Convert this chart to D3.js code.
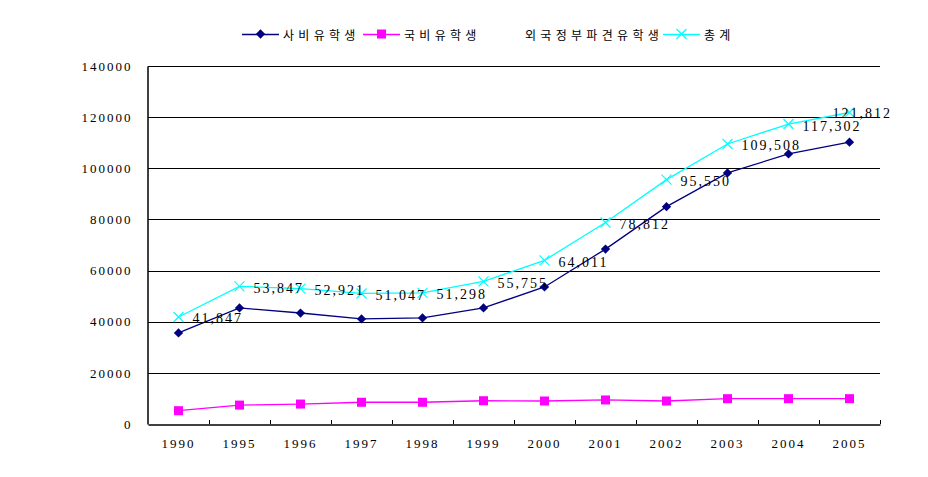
<!DOCTYPE html>
<html><head><meta charset="utf-8">
<script src="https://cdn.jsdelivr.net/npm/d3@7"></script>
<style>
body{margin:0;background:#fff;}
text{fill:#000;}
</style>
</head><body>
<svg id="chart" width="928" height="477"></svg>
<script>
const years = ["1990","1995","1996","1997","1998","1999","2000","2001","2002","2003","2004","2005"];
const privateStudents = [35600,45400,43400,41100,41500,45400,53600,68400,85000,98200,105600,110200];
const nationalStudents = [5200,7400,7800,8500,8500,9100,9000,9400,9000,9900,9900,9900];
const totalStudents = [41847,53847,52921,51047,51298,55755,64011,78812,95550,109508,117302,121812];
const yTicks = [0,20000,40000,60000,80000,100000,120000,140000];
const legendNames = ["사비유학생","국비유학생","외국정부파견유학생","총계"];

(function(){
const svg = d3.select("#chart");
const pLeft = 148, pRight = 880, pTop = 66, pBottom = 424;
const x = d3.scaleBand().domain(years).range([pLeft, pRight]).padding(0);
const y = d3.scaleLinear().domain([0,140000]).range([pBottom, pTop]);
const cx = d => x(d) + x.bandwidth()/2;

const numFont = "'Liberation Serif', serif";

// gridlines
svg.append("g").selectAll("line").data(yTicks.filter(t=>t>0)).join("line")
  .attr("x1", pLeft).attr("x2", pRight)
  .attr("y1", d=>Math.round(y(d))+0.5).attr("y2", d=>Math.round(y(d))+0.5)
  .attr("stroke","#000").attr("stroke-width",1);

// y axis
const yAxis = d3.axisLeft(y).tickValues(yTicks).tickSize(0).tickPadding(15).tickFormat(d3.format("d"));
const gy = svg.append("g").attr("transform",`translate(${pLeft-0.5},0)`).call(yAxis);
gy.select(".domain").attr("stroke","#000").attr("stroke-width",1.5);
gy.selectAll("text").attr("font-family",numFont).attr("font-size",13).attr("letter-spacing","2px").attr("fill","#111");

// x axis
const xAxis = d3.axisBottom(x).tickSize(0).tickPadding(14);
const gx = svg.append("g").attr("transform",`translate(0,${pBottom+0.5})`).call(xAxis);
gx.select(".domain").attr("stroke","#000").attr("stroke-width",1.5);
gx.selectAll("text").attr("font-family",numFont).attr("font-size",13).attr("letter-spacing","2px").attr("fill","#111");
// boundary ticks (between categories), pointing up
const bounds = years.map(d=>x(d)+x.bandwidth());
svg.append("g").selectAll("line").data(bounds).join("line")
  .attr("x1",d=>Math.round(d)+0.5).attr("x2",d=>Math.round(d)+0.5)
  .attr("y1",pBottom).attr("y2",pBottom-4)
  .attr("stroke","#000").attr("stroke-width",1);

const line = d3.line().x((d,i)=>cx(years[i])).y(d=>y(d));

// private (navy)
svg.append("path").datum(privateStudents).attr("d",line)
  .attr("fill","none").attr("stroke","#000080").attr("stroke-width",1.3);
svg.append("g").selectAll("path").data(privateStudents).join("path")
  .attr("d", d3.symbol().type(d3.symbolDiamond2).size(55))
  .attr("transform",(d,i)=>`translate(${cx(years[i])},${y(d)})`)
  .attr("fill","#000080");

// national (magenta)
svg.append("path").datum(nationalStudents).attr("d",line)
  .attr("fill","none").attr("stroke","#ff00ff").attr("stroke-width",1.3);
svg.append("g").selectAll("rect").data(nationalStudents).join("rect")
  .attr("x",(d,i)=>cx(years[i])-4.5).attr("y",d=>y(d)-4.5)
  .attr("width",9).attr("height",9).attr("fill","#ff00ff");

// total (cyan)
svg.append("path").datum(totalStudents).attr("d",line)
  .attr("fill","none").attr("stroke","#00ffff").attr("stroke-width",1.3);
svg.append("g").selectAll("path").data(totalStudents).join("path")
  .attr("d","M-5,-5L5,5M-5,5L5,-5")
  .attr("transform",(d,i)=>`translate(${cx(years[i])},${y(d)})`)
  .attr("stroke","#00ffff").attr("stroke-width",1.2).attr("fill","none");

// data labels
svg.append("g").selectAll("text").data(totalStudents).join("text")
  .attr("x",(d,i)=> i===years.length-1 ? cx(years[i])-17 : cx(years[i])+14)
  .attr("y",(d,i)=> y(d)+ (i===years.length-1 ? 1 : 2))
  .attr("dominant-baseline","central")
  .attr("font-family",numFont).attr("font-size",14).attr("letter-spacing","2px")
  .attr("fill","#111")
  .text(d3.format(","));

// legend
const lg = svg.append("g");
const legendItems = [
  {name:legendNames[0], x0:242, color:"#000080", sym:"diamond"},
  {name:legendNames[1], x0:363, color:"#ff00ff", sym:"square"},
  {name:legendNames[2], x0:484, color:null, sym:null},
  {name:legendNames[3], x0:663, color:"#00ffff", sym:"cross"}
];
const ly = 34;
legendItems.forEach(it=>{
  const g = lg.append("g");
  if (it.color){
    g.append("line").attr("x1",it.x0).attr("x2",it.x0+37).attr("y1",ly+0.5).attr("y2",ly+0.5)
      .attr("stroke",it.color).attr("stroke-width",1.3);
    const mx = it.x0+18.5;
    if (it.sym==="diamond") g.append("path").attr("d",d3.symbol().type(d3.symbolDiamond2).size(55)).attr("transform",`translate(${mx},${ly})`).attr("fill",it.color);
    if (it.sym==="square") g.append("rect").attr("x",mx-4.5).attr("y",ly-4.5).attr("width",9).attr("height",9).attr("fill",it.color);
    if (it.sym==="cross") g.append("path").attr("d","M-5,-5L5,5M-5,5L5,-5").attr("transform",`translate(${mx},${ly})`).attr("stroke",it.color).attr("stroke-width",1.2);
  }
  g.append("text").attr("x",it.x0+41).attr("y",ly).attr("dominant-baseline","central")
    .attr("font-family","'Noto Sans CJK KR', sans-serif").attr("font-size",12).attr("letter-spacing","4.3px")
    .attr("fill","#111")
    .text(it.name);
});
})();
</script>
</body></html>
